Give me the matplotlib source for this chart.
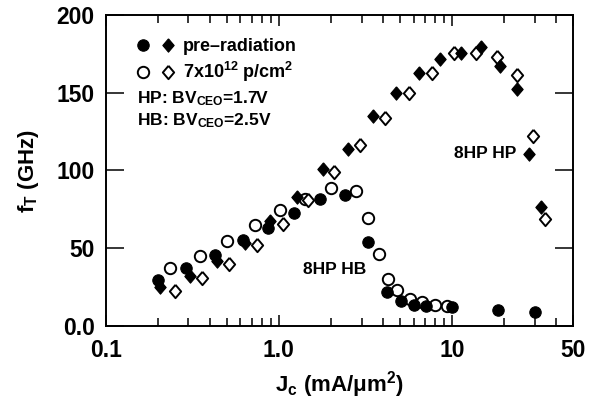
import matplotlib
matplotlib.use("Agg")
import matplotlib.pyplot as plt
from matplotlib.ticker import FixedLocator, FixedFormatter, NullFormatter
from matplotlib.legend_handler import HandlerTuple

plt.rcParams['font.family'] = ['Liberation Sans', 'DejaVu Sans']
plt.rcParams['font.weight'] = 'bold'

# ---- data ----
pre_HB_x = [0.20, 0.29, 0.43, 0.62, 0.87, 1.23, 1.73, 2.41, 3.25, 4.20, 5.07, 5.99, 7.10, 10.0, 18.5, 30.1]
pre_HB_y = [29.7, 37.6, 45.7, 55.3, 63.3, 72.9, 81.9, 84.0, 54.0, 22.0, 15.8, 13.5, 13.0, 12.0, 10.4, 9.2]

rad_HB_x = [0.236, 0.349, 0.502, 0.726, 1.01, 1.41, 2.01, 2.79, 3.25, 3.77, 4.28, 4.80, 5.68, 6.70, 7.93, 9.35]
rad_HB_y = [37.0, 45.1, 54.5, 64.7, 74.5, 81.4, 88.9, 86.7, 69.2, 46.2, 30.1, 23.1, 17.3, 15.2, 13.5, 12.6]

pre_HP_x = [0.207, 0.305, 0.439, 0.636, 0.887, 1.27, 1.80, 2.51, 3.50, 4.76, 6.41, 8.56, 11.3, 14.6, 18.8, 23.6, 27.8, 32.8]
pre_HP_y = [24.8, 32.2, 41.9, 53.7, 67.5, 82.7, 101.1, 113.8, 134.8, 150.0, 162.6, 171.5, 175.4, 179.7, 167.3, 152.6, 110.9, 76.7]

rad_HP_x = [0.250, 0.360, 0.516, 0.743, 1.05, 1.48, 2.09, 2.93, 4.11, 5.64, 7.66, 10.3, 13.8, 18.2, 23.6, 29.2, 34.2]
rad_HP_y = [22.6, 30.6, 40.2, 52.1, 65.4, 81.1, 98.8, 116.7, 133.8, 150.1, 162.4, 175.4, 175.8, 172.9, 161.1, 122.1, 68.6]

x_ticks = [0.1, 1.0, 10, 50]
x_ticklabels = ['0.1', '1.0', '10', '50']
y_ticks = [0, 50, 100, 150, 200]
y_ticklabels = ['0.0', '50', '100', '150', '200']

# ---- figure ----
fig = plt.figure(figsize=(6.04, 4.04), dpi=100)
ax = fig.add_axes([0.175, 0.193, 0.774, 0.770])

diamond = [(0, 1), (0.85, 0), (0, -1), (-0.85, 0), (0, 1)]
ms_c = 8.2
ms_d = 9.6
mew = 1.4

oc, = ax.plot(rad_HB_x, rad_HB_y, linestyle='none', marker='o', ms=ms_c,
              mfc='white', mec='black', mew=mew, zorder=3)
od, = ax.plot(rad_HP_x, rad_HP_y, linestyle='none', marker=diamond, ms=ms_d,
              mfc='white', mec='black', mew=mew, zorder=3)
fc, = ax.plot(pre_HB_x, pre_HB_y, linestyle='none', marker='o', ms=ms_c,
              mfc='black', mec='black', mew=0.8, zorder=4)
fd, = ax.plot(pre_HP_x, pre_HP_y, linestyle='none', marker=diamond, ms=ms_d,
              mfc='black', mec='black', mew=0.8, zorder=4)

ax.set_xscale('log')
ax.set_xlim(0.1, 50)
ax.set_ylim(0, 200)

ax.xaxis.set_major_locator(FixedLocator(x_ticks))
ax.xaxis.set_major_formatter(FixedFormatter(x_ticklabels))
minor = [m * d for d in (0.1, 1, 10) for m in range(2, 10) if m * d < 50]
ax.xaxis.set_minor_locator(FixedLocator(minor))
ax.xaxis.set_minor_formatter(NullFormatter())
ax.yaxis.set_major_locator(FixedLocator(y_ticks))
ax.yaxis.set_major_formatter(FixedFormatter(y_ticklabels))

for s in ax.spines.values():
    s.set_linewidth(1.4)

ax.tick_params(axis='both', which='both', direction='in', top=True, right=True,
               width=1.1, labelsize=16.5)
ax.tick_params(axis='x', which='major', length=8, pad=9)
ax.tick_params(axis='x', which='minor', length=5.5)
ax.tick_params(axis='y', which='major', length=13, pad=8)
for lab in ax.get_xticklabels() + ax.get_yticklabels():
    lab.set_fontweight('bold')

ax.set_xlabel(r'J$\mathregular{_c}$ (mA/μm$\mathregular{^2}$)', fontsize=16, fontweight='bold')
ax.set_ylabel(r'f$\mathregular{_T}$ (GHz)', fontsize=16, fontweight='bold')
ax.xaxis.set_label_coords(0.5, -0.138)
ax.yaxis.set_label_coords(-0.138, 0.5)

leg = ax.legend([(fc, fd), (oc, od)],
                ['pre–radiation', r'7x10$\mathregular{^{12}}$ p/cm$\mathregular{^2}$'],
                handler_map={tuple: HandlerTuple(ndivide=None, pad=0)},
                loc='upper left', bbox_to_anchor=(0.053, 0.925), frameon=False,
                handlelength=2.77, handletextpad=0.14,
                labelspacing=0.26, borderpad=0, borderaxespad=0,
                prop={'weight': 'bold', 'size': 13})

ax.text(0.0676, 0.717, r'HP: BV$\mathregular{_{CEO}}$=1.7V', transform=ax.transAxes,
        fontsize=12.5, fontweight='bold', ha='left', va='baseline')
ax.text(0.0676, 0.646, r'HB: BV$\mathregular{_{CEO}}$=2.5V', transform=ax.transAxes,
        fontsize=12.5, fontweight='bold', ha='left', va='baseline')

ax.text(1.37, 36.1, '8HP HB', fontsize=12.5, fontweight='bold', ha='left', va='center')
ax.text(10.2, 110.9, '8HP HP', fontsize=12.5, fontweight='bold', ha='left', va='center')

fig.savefig('out.png', dpi=100)
